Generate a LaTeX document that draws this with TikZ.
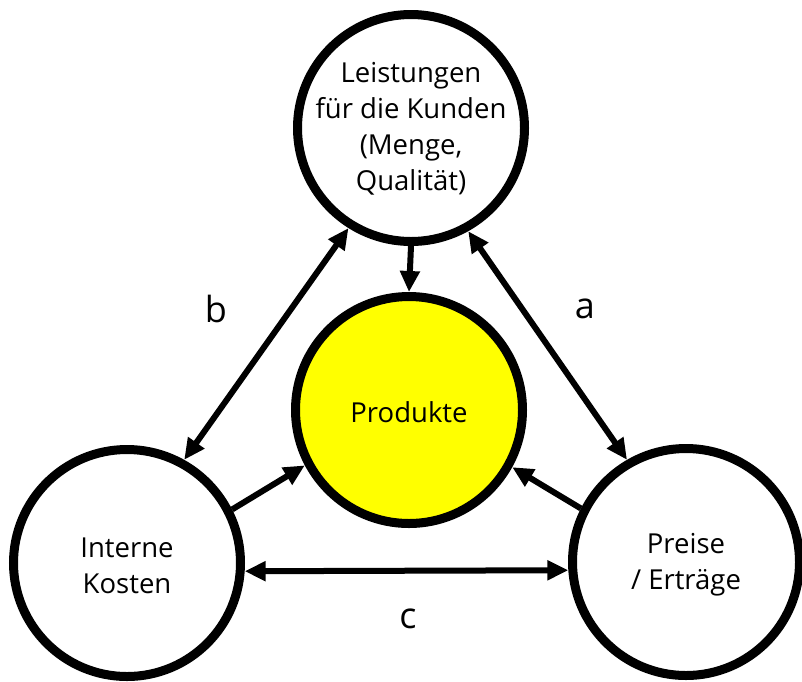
\documentclass[tikz,border=0pt]{standalone}
\usepackage{fontspec}
\setmainfont{Open Sans}
\usetikzlibrary{arrows.meta}
\definecolor{one}{HTML}{FFFF00}

\begin{document}
\begin{tikzpicture}[x=1pt,y=-1pt,
  kreis/.style={circle,draw,line width=9pt,minimum size=227pt,fill=white},
  txt/.style={align=center,font=\fontsize{27.5}{36}\selectfont},
  lbl/.style={anchor=base,font=\fontsize{36}{40}\selectfont},
  tip/.tip={Triangle[length=21pt,width=19pt]},
  pfeil/.style={line width=6pt,-tip},
  dpfeil/.style={line width=6pt,tip-tip}]

\useasboundingbox (0,0) rectangle (802,681);

\draw[solid]

(411,128) node[kreis] (T) {}
(409,410) node[kreis,fill=one] (C) {}
(127,563) node[kreis] (L) {}
(686,562) node[kreis] (R) {};

\node[txt] (Tt) at ([yshift=-1pt]T.center) {Leistungen\\für die Kunden\\(Menge,\\Qualität)};
\node[txt] (Ct) at ([yshift=-2pt]C.center) {Produkte};
\node[txt] (Lt) at ([yshift=-3pt]L.center) {Interne\\Kosten};
\node[txt] (Rt) at ([yshift=-3pt]R.center) {Preise\\/ Erträge};

\node[lbl] (b) at (216,322) {b};
\node[lbl] (a) at (585,318) {a};
\node[lbl] (c) at (408,628) {c};

\draw[pfeil] (T.south) -- (C.north);
\draw[dpfeil] (L.61) -- (T.238);
\draw[dpfeil] (T.299) -- (R.120);
\draw[dpfeil] (L.-4) -- (R.184);
\draw[pfeil] (L.27) -- (C.208);
\draw[pfeil] (R.153) -- (C.331);
\end{tikzpicture}
\end{document}
